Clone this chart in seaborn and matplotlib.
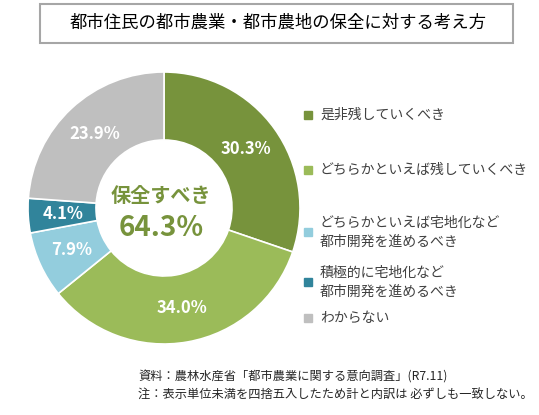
import matplotlib
matplotlib.use("Agg")
import matplotlib.pyplot as plt
import seaborn as sns
from matplotlib.patches import Rectangle

# データ
categories = ["是非残していくべき", "どちらかといえば残していくべき",
              "どちらかといえば宅地化など\n都市開発を進めるべき",
              "積極的に宅地化など\n都市開発を進めるべき", "わからない"]
values = [30.3, 34.0, 7.9, 4.1, 23.9]
colors = ["#77933C", "#9BBB59", "#93CDDD", "#31849B", "#BFBFBF"]
center_label = "保全すべき"
center_value = "64.3%"
title = "都市住民の都市農業・都市農地の保全に対する考え方"
notes = ["資料：農林水産省「都市農業に関する意向調査」(R7.11)",
         "注：表示単位未満を四捨五入したため計と内訳は 必ずしも一致しない。"]

sns.set_theme(style="white")
plt.rcParams['font.family'] = ['Noto Sans CJK JP', 'DejaVu Sans']

W, H = 539, 415
fig = plt.figure(figsize=(W / 100, H / 100), dpi=100)

cx, cy, r = 164, 208, 136
ax = fig.add_axes([(cx - r) / W, (H - cy - r) / H, 2 * r / W, 2 * r / H])
wedges, texts, autotexts = ax.pie(
    values, colors=colors, startangle=90, counterclock=False,
    autopct=lambda p: "", pctdistance=0.745,
    wedgeprops=dict(width=0.5, edgecolor="white", linewidth=1.2))
for at, v in zip(autotexts, values):
    at.set_text(f"{v:.1f}%")
    at.set_color("white")
    at.set_fontsize(12)
    at.set_fontweight("bold")
ax.set_xlim(-1, 1)
ax.set_ylim(-1, 1)
ax.set_aspect("equal")
ax.axis("off")

ax.text(-0.02, 0.09, center_label, ha="center", va="center", color="#77933C",
        fontsize=14.5, fontweight="bold")
ax.text(-0.02, -0.15, center_value, ha="center", va="center", color="#77933C",
        fontsize=20, fontweight="bold")

# タイトル枠
fig.patches.append(Rectangle((40 / W, 1 - 43 / H), 473 / W, 39 / H,
                             transform=fig.transFigure, fill=False,
                             edgecolor="#A6A6A6", linewidth=1.5))
fig.text(278 / W, 1 - 23 / H, title, ha="center", va="center",
         fontsize=12.5, color="#000000")

# 凡例
legend_y = [115, 170, 232, 282, 318]
for lab, col, y in zip(categories, colors, legend_y):
    fig.patches.append(Rectangle((304 / W, 1 - (y + 4) / H), 8 / W, 8 / H,
                                 transform=fig.transFigure, color=col))
    fig.text(320 / W, 1 - y / H, lab, ha="left", va="center",
             fontsize=10, color="#404040", linespacing=1.45)

# 注記
fig.text(138 / W, 1 - 377 / H, notes[0], ha="left", va="center", fontsize=8.8)
fig.text(138 / W, 1 - 395 / H, notes[1], ha="left", va="center", fontsize=8.8)

fig.savefig("out.png", dpi=100, facecolor="white")
